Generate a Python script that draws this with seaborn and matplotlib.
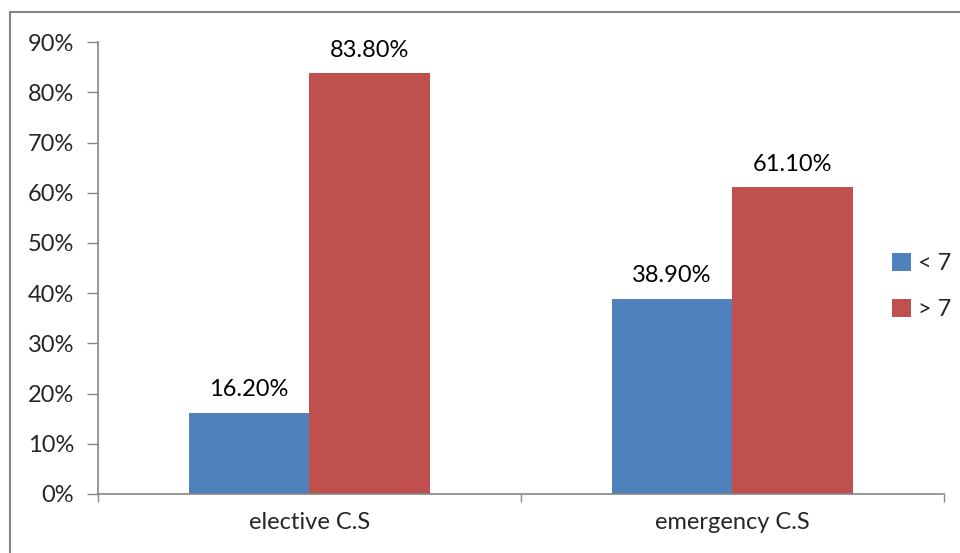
import matplotlib
matplotlib.use("Agg")
import matplotlib.pyplot as plt
from matplotlib.patches import Rectangle
import pandas as pd
import seaborn as sns

categories = ["elective C.S", "emergency C.S"]
groups = ["< 7", "> 7"]
below_7 = [16.2, 38.9]
above_7 = [83.8, 61.1]
y_ticks = [0, 10, 20, 30, 40, 50, 60, 70, 80, 90]

colors = {"< 7": "#4F81BD", "> 7": "#C0504D"}
axis_grey = "#868686"
fs = 17

df = pd.DataFrame({
    "category": categories * 2,
    "group": [groups[0]] * 2 + [groups[1]] * 2,
    "value": below_7 + above_7,
})

sns.set_style("white")
plt.rcParams["font.family"] = ["Lato", "DejaVu Sans"]

fig = plt.figure(figsize=(9.6, 5.53), dpi=100)
ax = fig.add_axes([0.102, 0.1067, 0.881, 0.817])

sns.barplot(data=df, x="category", y="value", hue="group", order=categories,
            hue_order=groups, palette=colors, width=0.57, saturation=1,
            linewidth=0, ax=ax)

for c in ax.containers:
    ax.bar_label(c, labels=[f"{v:.2f}%" for v in c.datavalues],
                 padding=9, fontsize=fs, color="#000000")

ax.set_ylim(0, 90)
ax.set_xlim(-0.5, 1.5)
ax.set_yticks(y_ticks)
ax.set_yticklabels([f"{t}%" for t in y_ticks], fontsize=fs)
ax.tick_params(axis="y", length=8, width=1, color=axis_grey, pad=9, left=True)
ax.tick_params(axis="x", which="major", length=0, pad=13, labelsize=fs)
ax.set_xticks([-0.5, 0.5, 1.5], minor=True)
ax.tick_params(axis="x", which="minor", length=6, width=1, color=axis_grey,
               bottom=True)
ax.set_xlabel("")
ax.set_ylabel("")

for side in ["top", "right"]:
    ax.spines[side].set_visible(False)
for side in ["left", "bottom"]:
    ax.spines[side].set_color(axis_grey)
    ax.spines[side].set_linewidth(1.2)

ax.legend(loc="center left", bbox_to_anchor=(0.929, 0.482),
          bbox_transform=fig.transFigure, frameon=False, fontsize=fs,
          borderpad=0, borderaxespad=0,
          handlelength=0.8, handleheight=0.8, handletextpad=0.3,
          labelspacing=1.05)

# outer chart frame
fig.add_artist(Rectangle((10 / 960, -0.2), 2.0, 1.2 - 12 / 553,
                         transform=fig.transFigure, fill=False,
                         edgecolor=axis_grey, linewidth=1.5, clip_on=False))

fig.savefig("out.png", dpi=100)
plt.close(fig)
